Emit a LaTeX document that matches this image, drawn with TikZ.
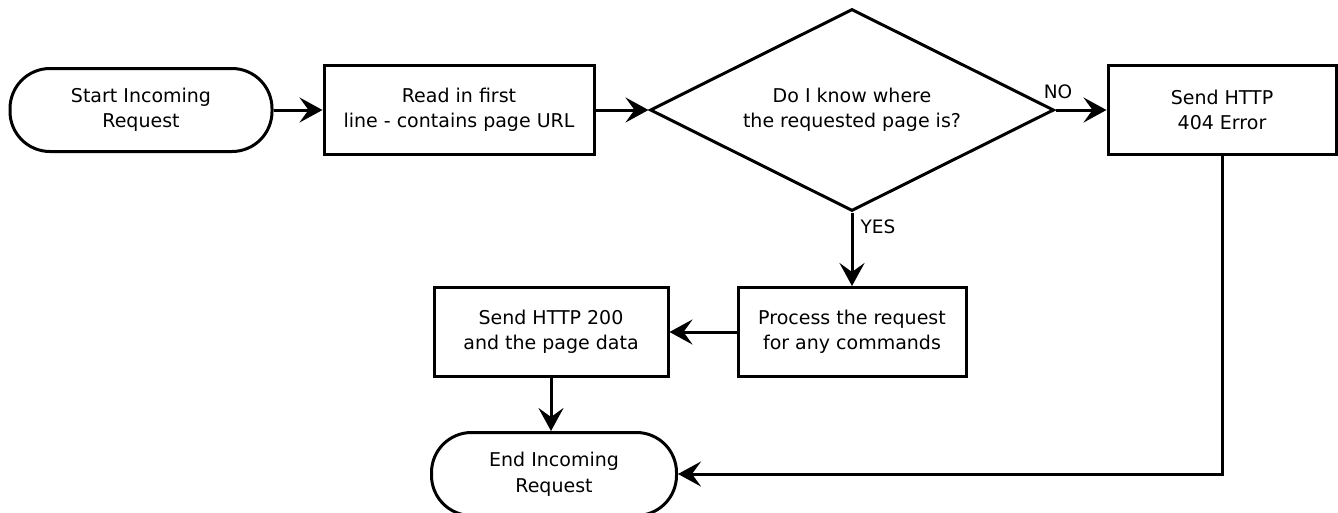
\documentclass[tikz,border=0pt]{standalone}
\usepackage{fontspec}
\setmainfont{DejaVu Sans}
\usetikzlibrary{shapes.geometric,arrows.meta}

\tikzset{
  flow/.style={line width=3pt, draw=black},
  txt/.style={font=\fontsize{19}{25.5}\selectfont},
  procbox/.style={flow, txt, rectangle, minimum height=89pt, inner sep=0pt, align=center},
  terminal/.style={flow, txt, rectangle, rounded corners=40pt, minimum height=83pt,
                   inner sep=0pt, align=center},
  decision/.style={flow, txt, diamond, aspect=2, minimum width=404pt, minimum height=202pt,
                   inner sep=0pt, align=center},
  link/.style={line width=3pt, -{Stealth[length=23pt,width=25pt,inset=9pt]}},
  tag/.style={font=\fontsize{18.5}{22}\selectfont}
}

\begin{document}
\begin{tikzpicture}[x=1pt,y=-1pt]
  \useasboundingbox (0,0) rectangle (1338,512);

  % top row
  \node[terminal, minimum width=262pt] (start) at (141,110) {Start Incoming\\Request};
  \node[procbox, minimum width=270pt] (read) at (459,110) {Read in first\\line - contains page URL};
  \node[decision] (ask) at (852,110) {Do I know where\\the requested page is?};
  \node[procbox, minimum width=228pt] (err) at (1222,110) {Send HTTP\\404 Error};

  % lower rows
  \node[procbox, minimum width=228pt] (proc) at (852,332) {Process the request\\for any commands};
  \node[procbox, minimum width=234pt] (ok) at (551,332) {Send HTTP 200\\and the page data};
  \node[terminal, minimum width=245pt] (finish) at (554,474) {End Incoming\\Request};

  % branch labels
  \node[tag] (nolbl) at (1058,92) {NO};
  \node[tag] (yeslbl) at (878,227) {YES};

  % connectors
  \draw[link] (start.east) -- (read.west);
  \draw[link] (read.east) -- (ask.west);
  \draw[link] (ask.east) -- (err.west);
  \draw[link] (ask.south) -- (proc.north);
  \draw[link] (proc.west) -- (ok.east);
  \draw[link] (ok.south) -- (ok.south |- finish.north);
  \draw[link] (err.south) |- (finish.east);
\end{tikzpicture}
\end{document}
